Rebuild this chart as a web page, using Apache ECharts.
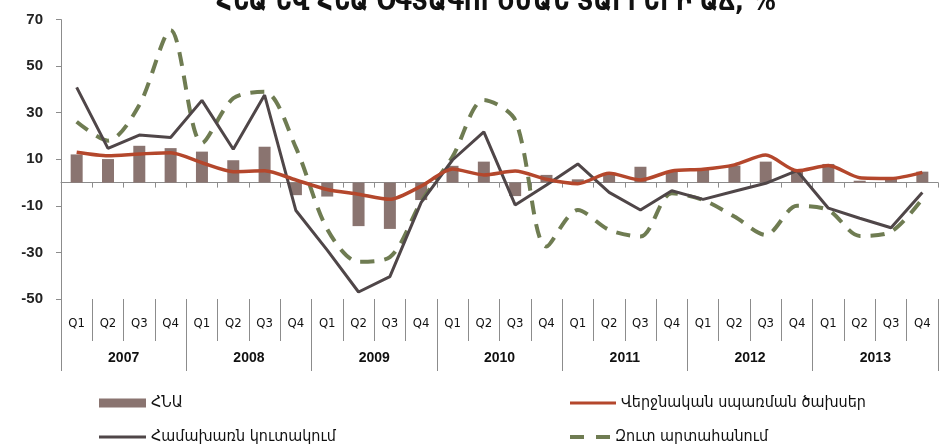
<!DOCTYPE html>
<html>
<head>
<meta charset="utf-8">
<script src="https://cdn.jsdelivr.net/npm/echarts@6/dist/echarts.min.js"></script>
<style>
  html, body { margin: 0; padding: 0; background: #fff; }
  #chart { width: 946px; height: 445px; }
</style>
</head>
<body>
<div id="chart"></div>
<script>
var quarters = ['Q1', 'Q2', 'Q3', 'Q4', 'Q1', 'Q2', 'Q3', 'Q4', 'Q1', 'Q2', 'Q3', 'Q4', 'Q1', 'Q2',
    'Q3', 'Q4', 'Q1', 'Q2', 'Q3', 'Q4', 'Q1', 'Q2', 'Q3', 'Q4', 'Q1', 'Q2', 'Q3', 'Q4'];
var years = ['2007', '2008', '2009', '2010', '2011', '2012', '2013'];

// ՀՆԱ
var gdp = [12.1, 10.1, 15.8, 14.8, 13.3, 9.6, 15.4, -5.4, -6.0, -18.7, -19.9, -7.5, 7.2, 9.0,
    -5.8, 3.3, 1.4, 4.0, 6.8, 4.7, 5.7, 7.3, 9.0, 5.4, 8.0, 0.8, 1.8, 4.7];
// Վերջնական սպառման ծախսեր
var consumption = [13.0, 11.5, 12.3, 12.8, 8.5, 4.7, 5.1, 1.1, -3.0, -5.0, -7.2, -1.5, 5.8, 3.3,
    5.0, 1.4, -0.5, 4.0, 1.1, 5.0, 5.7, 7.6, 11.8, 5.1, 7.3, 2.1, 1.8, 4.4];
// Համախառն կուտակում
var capital = [40.9, 14.7, 20.4, 19.4, 35.3, 14.3, 37.6, -12.0, -29.0, -47.0, -40.4, -8.5, 9.7, 21.8,
    -9.6, -1.0, 8.0, -4.2, -11.8, -3.5, -7.2, -3.7, -0.3, 5.1, -11.0, -15.3, -19.4, -4.3];
// Զուտ արտահանում
var netExports = [26.1, 18.0, 33.3, 65.5, 17.0, 36.2, 39.0, 15.0, -20.0, -34.0, -32.0, -8.2, 11.1, 35.5,
    26.9, -27.5, -11.8, -20.3, -23.2, -4.6, -7.5, -14.6, -22.5, -10.0, -11.8, -22.9, -21.1, -7.0];

var yTicks = [-50, -30, -10, 10, 30, 50, 70];

var myChart = echarts.init(document.getElementById('chart'));

var axisGray = '#8c8c8c';
var legendText = { fontFamily: 'DejaVu Sans Condensed', fontSize: 16, color: '#111' };

// one legend per item so the 2x2 layout is fixed
function legendItem(name, left, top, icon, w, h) {
    return {
        left: left,
        top: top,
        icon: icon,
        itemWidth: w,
        itemHeight: h,
        itemGap: 0,
        textStyle: legendText,
        data: [name]
    };
}

var option = {
    animation: false,
    title: {
        text: 'ՀՆԱ ԵՎ ՀՆԱ ՕԳՏԱԳՈՐԾՄԱՆ ՏԱՐՐԵՐԻ ԱՃ, %',
        left: 491,
        textAlign: 'center',
        top: -15,
        textStyle: {
            fontFamily: 'DejaVu Sans Condensed',
            fontWeight: 'bold',
            fontSize: 26,
            color: '#111'
        }
    },
    legend: [
        legendItem('ՀՆԱ', 94, 390, 'rect', 47, 9),
        legendItem('Համախառն կուտակում', 94, 424, 'path://M0,0H47V3H0Z', 47, 3),
        legendItem('Վերջնական սպառման ծախսեր', 565, 390, 'path://M0,0H46V3H0Z', 46, 3),
        legendItem('Զուտ արտահանում', 565, 424, 'path://M0,0H14V4H0Z M26,0H40V4H26Z', 40, 4)
    ],
    grid: {
        left: 61,
        right: 8,
        top: 19.6,
        bottom: 146
    },
    xAxis: [{
        type: 'category',
        data: quarters,
        axisLine: { onZero: true, lineStyle: { color: axisGray, width: 1 } },
        axisTick: { show: true, interval: 0, length: 5, lineStyle: { color: axisGray } },
        axisLabel: { show: false }
    }, {
        type: 'category',
        data: quarters,
        position: 'bottom',
        axisLine: { show: false, onZero: false },
        axisTick: { show: true, interval: 0, length: 42, lineStyle: { color: axisGray } },
        axisLabel: {
            interval: 0,
            margin: 18,
            fontFamily: 'DejaVu Sans Condensed',
            fontSize: 13,
            color: '#111'
        }
    }, {
        type: 'category',
        data: years,
        position: 'bottom',
        axisLine: { show: false, onZero: false },
        axisTick: { show: true, interval: 0, length: 72, lineStyle: { color: axisGray } },
        axisLabel: {
            interval: 0,
            margin: 52,
            fontFamily: 'Liberation Sans',
            fontWeight: 'bold',
            fontSize: 14,
            color: '#111'
        }
    }],
    yAxis: {
        type: 'value',
        min: -50,
        max: 70,
        interval: 20,
        axisLine: { show: true, lineStyle: { color: axisGray } },
        axisTick: { show: true, length: 5, lineStyle: { color: axisGray } },
        splitLine: { show: false },
        axisLabel: {
            margin: 18,
            fontFamily: 'Liberation Sans',
            fontWeight: 'bold',
            fontSize: 15,
            color: '#222',
            customValues: yTicks
        }
    },
    series: [{
        name: 'ՀՆԱ',
        type: 'bar',
        xAxisIndex: 0,
        data: gdp,
        barWidth: 12,
        itemStyle: { color: '#8a7470' },
        z: 1
    }, {
        name: 'Վերջնական սպառման ծախսեր',
        type: 'line',
        xAxisIndex: 0,
        data: consumption,
        symbol: 'none',
        smooth: 0.25,
        lineStyle: { color: '#b4472c', width: 3.5 },
        itemStyle: { color: '#b4472c' },
        z: 4
    }, {
        name: 'Համախառն կուտակում',
        type: 'line',
        xAxisIndex: 0,
        data: capital,
        symbol: 'none',
        lineStyle: { color: '#4f4648', width: 3 },
        itemStyle: { color: '#4f4648' },
        z: 3
    }, {
        name: 'Զուտ արտահանում',
        type: 'line',
        xAxisIndex: 0,
        data: netExports,
        symbol: 'none',
        smooth: 0.3,
        lineStyle: { color: '#6f7c52', width: 4, type: [14, 10] },
        itemStyle: { color: '#6f7c52' },
        z: 2
    }]
};

myChart.setOption(option);
</script>
</body>
</html>
